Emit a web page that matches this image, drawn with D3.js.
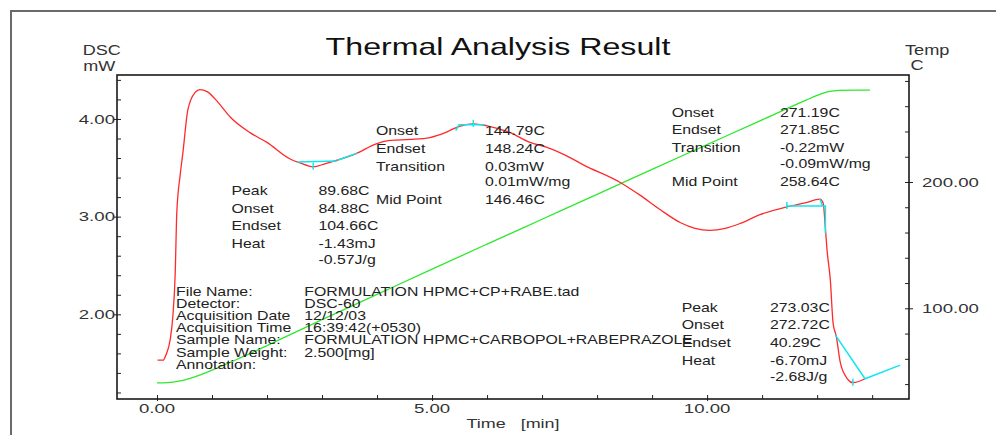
<!DOCTYPE html>
<html><head><meta charset="utf-8">
<script src="https://cdn.jsdelivr.net/npm/d3@7"></script>
<style>
html,body{margin:0;padding:0;background:#fff;}
text{font-family:"Liberation Sans",Arial,Helvetica,sans-serif;}
</style>
</head><body>
<svg id="chart" width="996" height="435"></svg>
<script>
// ---------------- data ----------------
const dscTime = [0.01,0.11,0.16,0.24,0.29,0.33,0.36,0.42,0.47,0.56,0.69,0.78,0.91,1.11,1.33,1.69,2.0,2.42,2.6,2.84,3.05,3.29,3.64,3.96,4.24,4.6,4.96,5.24,5.47,5.75,6.0,6.42,6.78,7.09,7.42,7.75,8.42,8.78,9.15,9.51,9.78,10.05,10.33,10.6,10.96,11.45,11.78,12.05,12.11,12.15,12.18,12.24,12.29,12.35,12.42,12.55,12.65,12.87];
const dscMw   = [1.532,1.53,1.58,1.74,1.99,2.40,3.04,3.42,3.65,4.09,4.27,4.30,4.28,4.17,4.02,3.86,3.76,3.59,3.55,3.51,3.54,3.58,3.65,3.74,3.78,3.79,3.81,3.86,3.92,3.95,3.93,3.86,3.76,3.71,3.63,3.53,3.35,3.22,3.07,2.94,2.88,2.86,2.88,2.93,3.02,3.10,3.14,3.18,3.14,2.88,2.66,2.35,1.91,1.77,1.51,1.34,1.30,1.34];

const tempTime = [0,0.2,0.4,0.6,0.8,1.0,1.5,2.0,2.5,3,4,5,6,7,8,9,10,11,11.8,12.0,12.2,12.4,12.7,12.96];
const tempC    = [41,41.2,42.3,44.5,47.5,51,60.5,70.5,80.8,91,111,131,150.8,170.5,190.2,210,229.6,249.2,264.8,268.5,271.5,272.6,272.8,272.8];

// analysis baselines (time, mW)
const baseline1Time = [2.55,3.27]; const baseline1Mw = [3.56,3.57];
const baseline2Time = [5.43,5.49,5.96]; const baseline2Mw = [3.88,3.94,3.94];
const baseline3Time = [11.45,12.15,12.15]; const baseline3Mw = [3.11,3.11,2.83];
const baseline3bTime = [12.05,12.1]; const baseline3bMw = [3.18,3.11];
const baseline4Time = [12.33,12.87,13.51]; const baseline4Mw = [1.79,1.34,1.48];
const markerTime = [2.84,5.75,11.45,12.65]; const markerMw = [3.51,3.95,3.11,1.30];
const overlay1Range = [3.27,3.64];

const timeMajor = [0,5,10];
const timeMinor = [0,1,2,3,4,5,6,7,8,9,10,11,12,13];
const dscMajor = [2,3,4];
const dscMinor = [1.2,1.4,1.6,1.8,2.0,2.2,2.4,2.6,2.8,3.0,3.2,3.4,3.6,3.8,4.0,4.2,4.4];
const tempMajor = [100,200];
const tempMinor = [40,60,80,100,120,140,160,180,200,220,240,260,280];

const group1Labels = ["Peak","Onset","Endset","Heat",""];
const group1Values = ["89.68C","84.88C","104.66C","-1.43mJ","-0.57J/g"];
const group2Labels = ["Onset","Endset","Transition","","Mid Point"];
const group2Values = ["144.79C","148.24C","0.03mW","0.01mW/mg","146.46C"];
const group3Labels = ["Onset","Endset","Transition","","Mid Point"];
const group3Values = ["271.19C","271.85C","-0.22mW","-0.09mW/mg","258.64C"];
const group4Labels = ["Peak","Onset","Endset","Heat",""];
const group4Values = ["273.03C","272.72C","40.29C","-6.70mJ","-2.68J/g"];
const infoLabels = ["File Name:","Detector:","Acquisition Date","Acquisition Time","Sample Name:","Sample Weight:","Annotation:"];
const infoValues = ["FORMULATION HPMC+CP+RABE.tad","DSC-60","12/12/03","16:39:42(+0530)","FORMULATION HPMC+CARBOPOL+RABEPRAZOLE","2.500[mg]",""];

// ---------------- layout ----------------
const X0=117, X1=909, Y0=75, Y1=399;
const svg = d3.select("#chart");
const x  = d3.scaleLinear().domain([-0.727,13.67]).range([X0,X1]);
const yL = d3.scaleLinear().domain([1.133,4.45]).range([Y1,Y0]);
const yR = d3.scaleLinear().domain([28.2,284.7]).range([Y1,Y0]);

const RED="#ff2a2a", GREEN="#2ee82e", CYAN="#10e6ee";

function txt(s, px, py, size, sx, anchor, fill){
  return svg.append("text")
    .attr("transform",`translate(${px},${py}) scale(${sx},1)`)
    .attr("font-size",size).attr("text-anchor",anchor||"start")
    .attr("fill",fill||"#222").style("white-space","pre").text(s);
}

// outer frame
svg.append("rect").attr("x",11).attr("y",11).attr("width",1100).attr("height",600)
  .attr("fill","none").attr("stroke","#6a6a6a").attr("stroke-width",2);

// title and axis titles
txt("Thermal Analysis Result",498,55,24,1.34,"middle","#111");
txt("DSC",82.7,55,14,1.29,"start","#333");
txt("mW",83.3,70.5,14,1.29,"start","#333");
txt("Temp",905,55,14,1.3,"start","#333");
txt("C",910.5,70,14,1.3,"start","#333");
txt("Time   [min]",513,428,13.5,1.33,"middle","#333");

// axes
function clean(g){ g.select(".domain").remove(); g.selectAll("line").attr("stroke","#222"); g.selectAll("text").remove(); }
svg.append("g").attr("transform",`translate(${X0},0)`).call(d3.axisLeft(yL).tickValues(dscMinor).tickSize(-4)).call(clean);
svg.append("g").attr("transform",`translate(${X0},0)`).call(d3.axisLeft(yL).tickValues(dscMajor).tickSize(3)).call(clean);
svg.append("g").attr("transform",`translate(${X1},0)`).call(d3.axisRight(yR).tickValues(tempMinor).tickSize(-4)).call(clean);
svg.append("g").attr("transform",`translate(${X1},0)`).call(d3.axisRight(yR).tickValues(tempMajor).tickSize(4)).call(clean);
svg.append("g").attr("transform",`translate(0,${Y1})`).call(d3.axisBottom(x).tickValues(timeMinor).tickSize(-4)).call(clean);
svg.append("g").attr("transform",`translate(0,${Y1})`).call(d3.axisBottom(x).tickValues(timeMajor).tickSize(2)).call(clean);

dscMajor.forEach(v=>txt(v.toFixed(2),115,yL(v)+4.8,13.5,1.38,"end","#333"));
tempMajor.forEach(v=>txt(v.toFixed(2),922,yR(v)+4.8,13.5,1.38,"start","#333"));
timeMajor.forEach(v=>txt(v.toFixed(2),x(v),Y1+13.5,13.5,1.38,"middle","#333"));

// plot box
svg.append("rect").attr("x",X0).attr("y",Y0).attr("width",X1-X0).attr("height",Y1-Y0)
  .attr("fill","none").attr("stroke","#1a1a1a").attr("stroke-width",1.6);

// curves
const lineL = d3.line().x(d=>x(d[0])).y(d=>yL(d[1])).curve(d3.curveMonotoneX);
const lineLin = d3.line().x(d=>x(d[0])).y(d=>yL(d[1]));
const lineR = d3.line().x(d=>x(d[0])).y(d=>yR(d[1])).curve(d3.curveMonotoneX);
const zip=(a,b)=>a.map((v,i)=>[v,b[i]]);

svg.append("path").attr("d",lineR(zip(tempTime,tempC))).attr("fill","none").attr("stroke",GREEN).attr("stroke-width",1.3);
const dscPts = zip(dscTime,dscMw);
svg.append("path").attr("d",lineL(dscPts)).attr("fill","none").attr("stroke",RED).attr("stroke-width",1.3);

// analysis overlays
const ov1 = dscPts.filter(d=>d[0]>=overlay1Range[0]&&d[0]<=overlay1Range[1]);
[zip(baseline1Time,baseline1Mw), zip(baseline2Time,baseline2Mw), zip(baseline3Time,baseline3Mw),
 zip(baseline3bTime,baseline3bMw), zip(baseline4Time,baseline4Mw)].forEach(p=>{
  svg.append("path").attr("d",lineLin(p)).attr("fill","none").attr("stroke",CYAN).attr("stroke-width",1.5);
});
svg.append("path").attr("d",lineL(ov1)).attr("fill","none").attr("stroke",CYAN).attr("stroke-width",1.5);
zip(markerTime,markerMw).forEach(d=>{
  svg.append("line").attr("x1",x(d[0])).attr("x2",x(d[0])).attr("y1",yL(d[1])-4).attr("y2",yL(d[1])+3)
    .attr("stroke",CYAN).attr("stroke-width",1.5);
});

// annotation groups
const STEP=17.8, SUB=15.5;
function group(labels, values, lx, vx, y0){
  let y=y0;
  labels.forEach((l,i)=>{
    if(i>0) y += (labels[i]==="" ? SUB : (labels[i-1]==="" ? STEP : STEP));
    if(l) txt(l,lx,y+4.3,12,1.32,"start","#222");
    txt(values[i],vx,y+4.3,12,1.32,"start","#222");
  });
}
group(group1Labels,group1Values,231.5,318.5,190.5);
group(group2Labels,group2Values,376,485,130.7);
group(group3Labels,group3Values,671.7,780,112.3);
group(group4Labels,group4Values,681.7,770,307.3);

infoLabels.forEach((l,i)=>{
  const yy = 291.7 + i*12.1 + 4.3;
  txt(l,176,yy,12,1.32,"start","#222");
  if(infoValues[i]) txt(infoValues[i],304.3,yy,12,1.32,"start","#222");
});
</script>
</body></html>
